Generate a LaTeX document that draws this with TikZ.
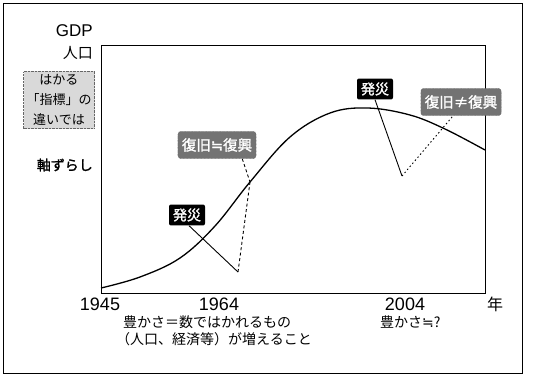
\documentclass[tikz,border=0pt]{standalone}
\usepackage{fontspec}
\setmainfont{Liberation Sans}
\newfontfamily\jp{Noto Sans CJK JP}
\newfontfamily\jpb[FakeBold=1.5]{Noto Sans CJK JP}
\newfontfamily\dv{DejaVu Sans}
\newfontfamily\dvb[FakeBold=1.5]{DejaVu Sans}
\usetikzlibrary{calc}
\tikzset{
  frame/.style={draw=black, line width=1pt},
  curveline/.style={draw=black, line width=1.3pt},
  disaster/.style={fill=black, text=white, rounded corners=2pt, inner xsep=4pt, inner ysep=4pt, font=\jpb\fontsize{14}{14}\selectfont},
  recovery/.style={fill=black!55, draw=black!70, densely dotted, text=white, rounded corners=3pt, inner xsep=4pt, inner ysep=7pt, font=\jpb\fontsize{14.5}{14.5}\selectfont},
  metric/.style={fill=black!15, draw=black!60, densely dotted, inner sep=3pt, align=center, font=\jp\fontsize{13}{20}\selectfont},
  yr/.style={font=\fontsize{18}{18}\selectfont, inner sep=0pt},
  axlabel/.style={font=\fontsize{17}{17}\selectfont, inner sep=0pt, anchor=east},
  jtext/.style={font=\jp\fontsize{14}{16}\selectfont, inner sep=0pt, anchor=west},
  solidptr/.style={draw=black, line width=0.9pt},
  dashptr/.style={draw=black, line width=0.9pt, dash pattern=on 3pt off 2.5pt},
  dotptr/.style={draw=black, line width=0.9pt, dash pattern=on 1.5pt off 2.5pt}
}
\begin{document}
\begin{tikzpicture}[x=1pt,y=-1pt]
\useasboundingbox (0,0) rectangle (540,383);
% outer frame
\draw[frame] (3,3) rectangle (522,373);
% plot box
\draw[frame] (101,45) rectangle (485,293);
% growth curve
\draw[curveline] plot[smooth, tension=0.6] coordinates {(101,288) (140,277) (180,258) (215,226) (250,182) (290,137) (330,113) (368,108) (410,115) (445,129) (485,150)};
% left axis labels
\node[axlabel] (gdp) at (93,31) {GDP};
\node[axlabel, font=\jp\fontsize{15}{15}\selectfont] (pop) at (93,53) {人口};
\node[metric] (metric) at (59,100) {はかる\\「指標」の\\違いでは};
\node[axlabel, font=\jpb\fontsize{14}{14}\selectfont] (shift) at (93,165) {軸ずらし};
% years
\node[yr] (y1945) at (100,304) {1945};
\node[yr] (y1964) at (219,304) {1964};
\node[yr] (y2004) at (405,304) {2004};
\node[yr, font=\jp\fontsize{16}{16}\selectfont] (nen) at (495,304) {年};
% bottom notes
\node[jtext] (note1) at (123,322) {豊かさ＝数ではかれるもの};
\node[jtext] (note2) at (116,339) {（人口、経済等）が増えること};
\node[jtext] (note3) at (380,322) {豊かさ{\dv ≒}?};
% left disaster
\node[disaster] (d1) at (187,215) {発災};
\coordinate (dip1) at (238,272);
\coordinate (rec1) at (250,182);
\node[recovery] (r1) at (217,145) {復旧{\dvb ≒}復興};
\draw[solidptr] (d1.south) ++(2,0) -- (dip1);
\draw[dashptr] (dip1) -- (rec1);
\draw[dashptr] (r1.south east) ++(-14,0) -- (rec1);
% right disaster
\node[disaster] (d2) at (375,89) {発災};
\coordinate (dip2) at (402,176);
\node[recovery] (r2) at (461,102) {復旧≠復興};
\draw[solidptr] (d2.south) -- (dip2);
\draw[dotptr] (dip2) -- ($(r2.south)+(-8,0)$);
\end{tikzpicture}
\end{document}
